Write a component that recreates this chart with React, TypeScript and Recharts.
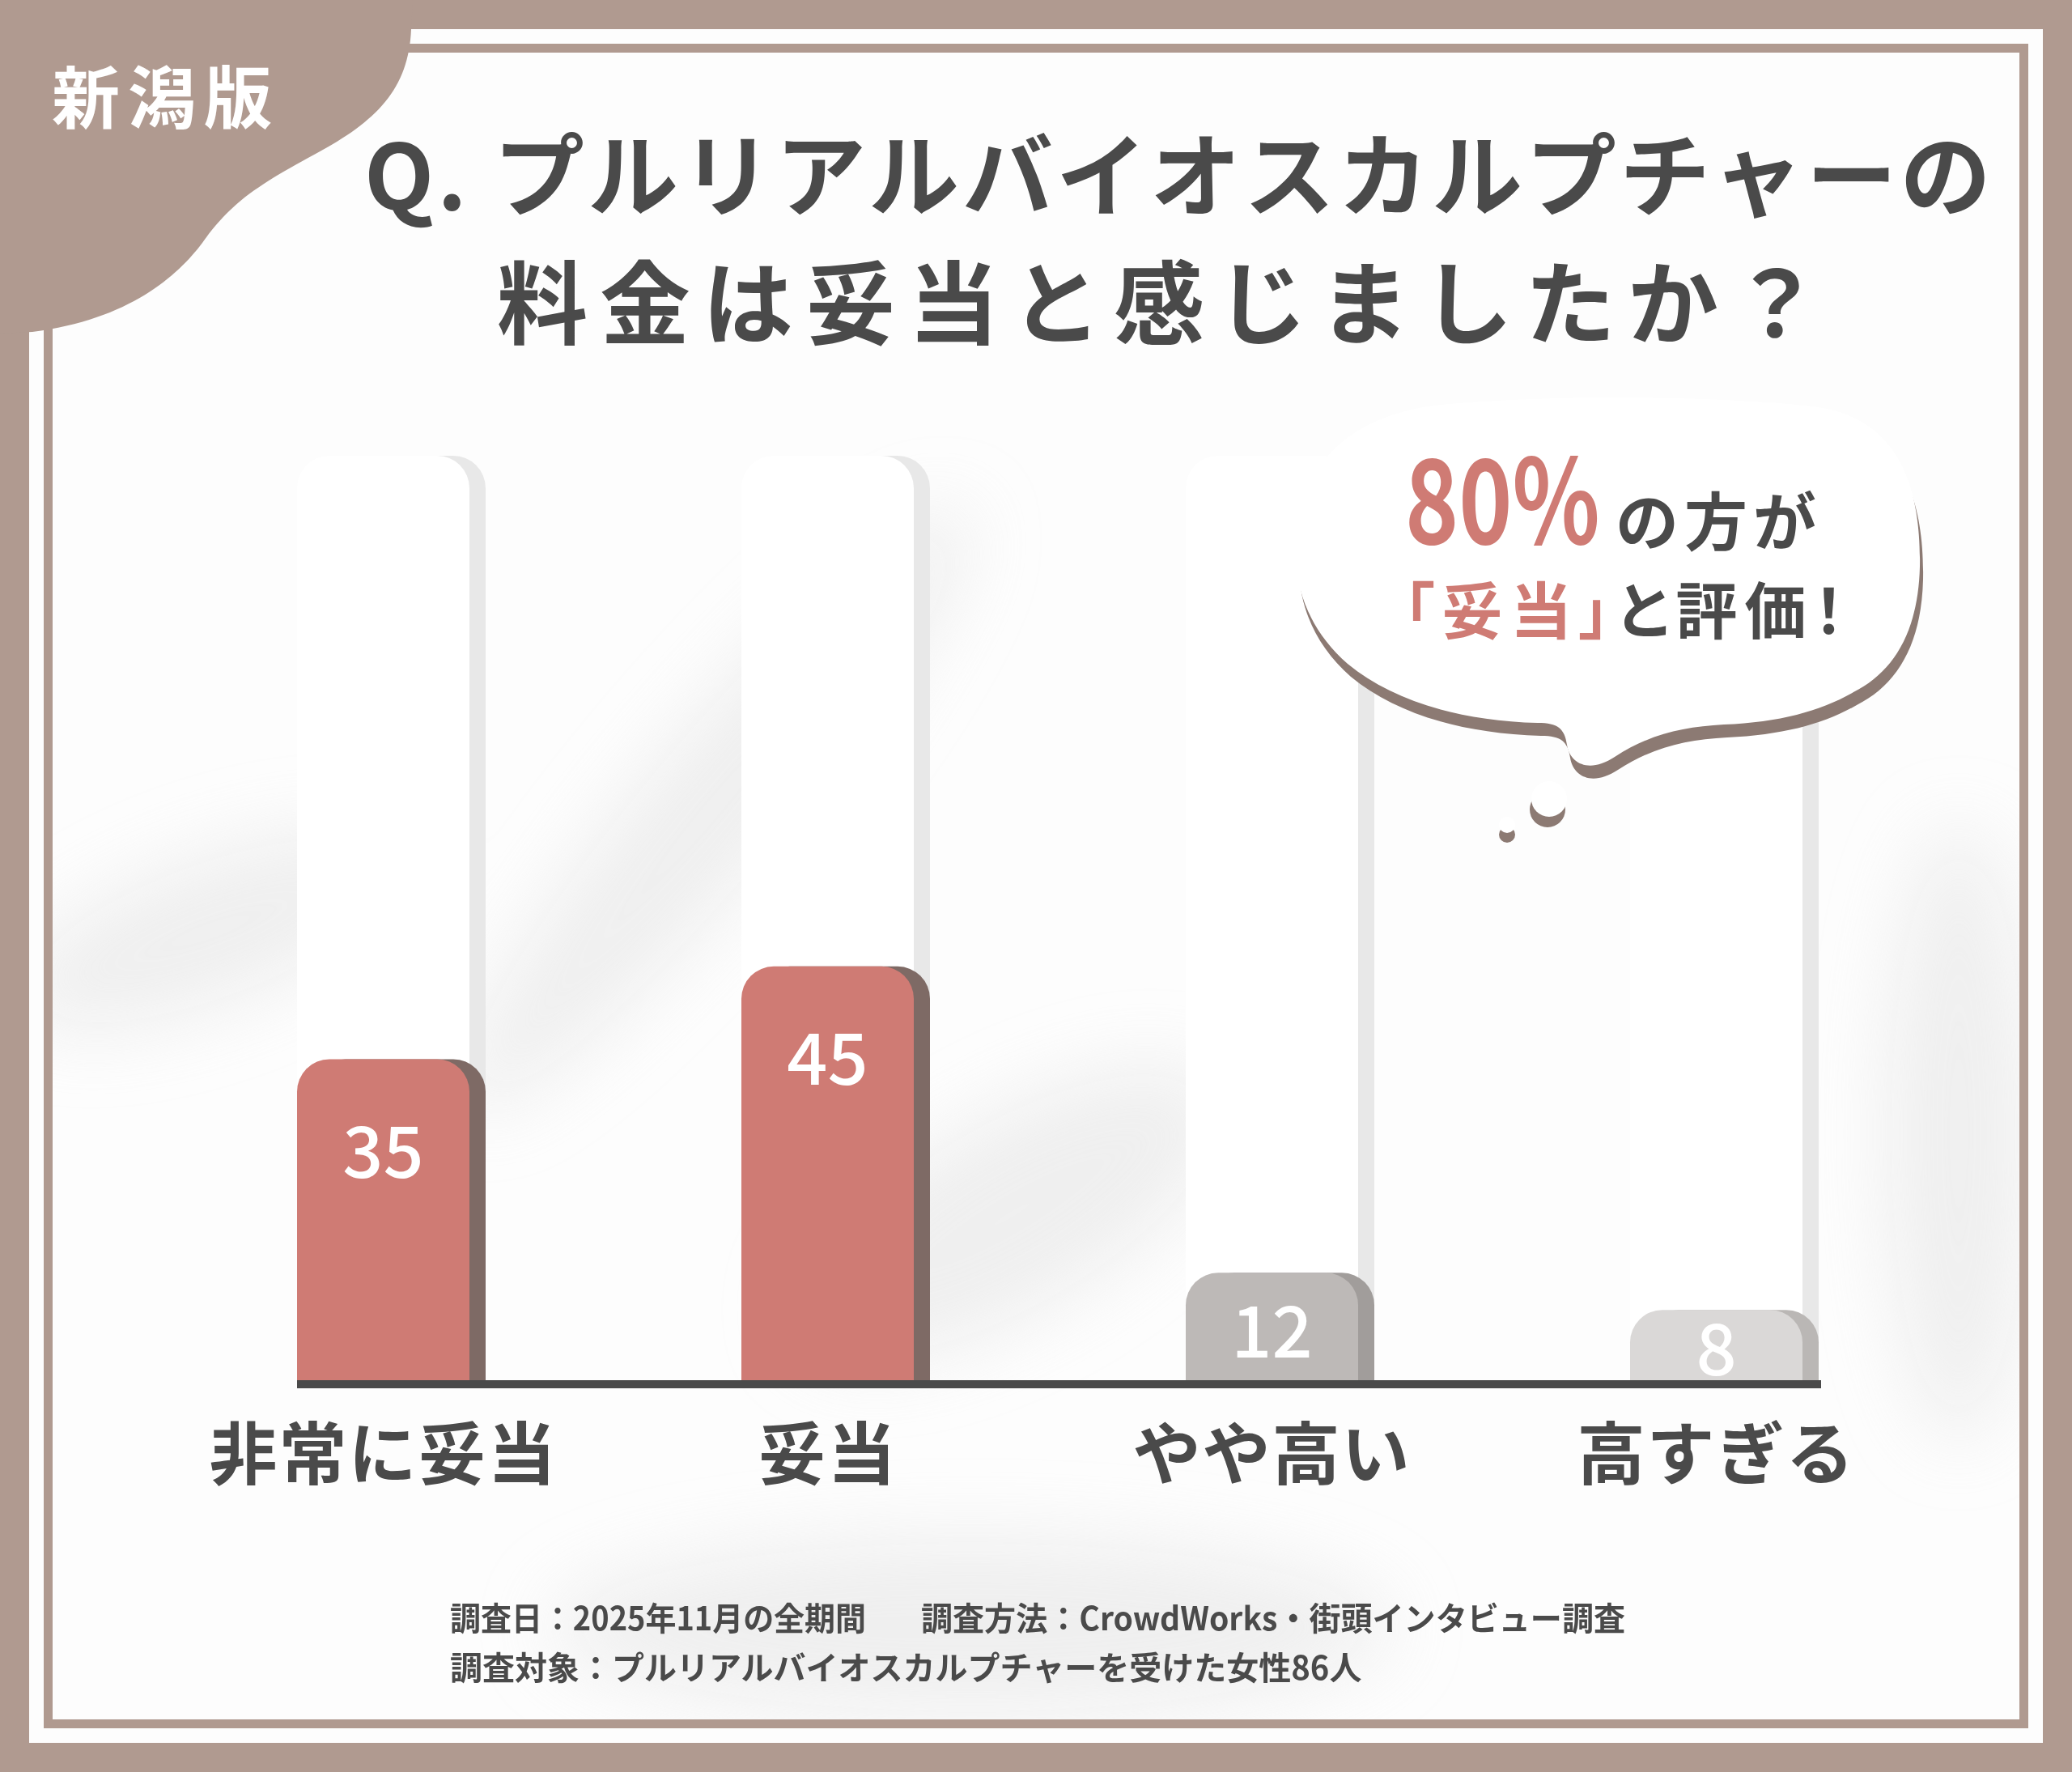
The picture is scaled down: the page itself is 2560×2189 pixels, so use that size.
import React from "react";
import { BarChart, Bar, XAxis, YAxis } from "recharts";

// 料金は妥当と感じましたか？ (n=86, 新潟版)
const categories = ["非常に妥当", "妥当", "やや高い", "高すぎる"];
const values = [35, 45, 12, 8];
const trackMax = 100;

const faceColors = ["#cf7b74", "#cf7b74", "#bdb9b7", "#dad8d7"];
const sideColors = ["#7e6a65", "#7e6a65", "#a19d9b", "#bab7b5"];

const data = categories.map((name, i) => ({ name, value: values[i] }));

const W = 2560;
const H = 2189;
const FONT = '"Noto Sans CJK JP", "Noto Sans", sans-serif';
const INK = "#4a4a4a";
const BROWN = "#b09a90";
const CORAL = "#cf7b74";
const PAPER = "#fdfdfd";
const SIDE = 20;
const RADIUS = 40;

const BUBBLE =
  "M1601,690 C1598,590 1650,515 1780,500 C1900,488 2120,488 2240,502 C2345,515 2374,600 2372,700 C2370,780 2340,830 2290,855 C2250,878 2200,892 2130,895 C2080,898 2040,906 1995,935 C1965,955 1940,945 1936,920 C1933,900 1925,893 1900,893 C1800,890 1720,865 1665,820 C1625,785 1603,740 1601,690 Z";

const topRounded = (x: number, y: number, w: number, h: number, r: number) => {
  const rr = Math.max(0, Math.min(r, h, w / 2));
  return `M${x},${y + h} L${x},${y + rr} A${rr},${rr} 0 0 1 ${x + rr},${y} L${x + w - rr},${y} A${rr},${rr} 0 0 1 ${x + w},${y + rr} L${x + w},${y + h} Z`;
};

const TrackShape = (props: any) => {
  const { x, y, width, height } = props;
  return (
    <g>
      <path d={topRounded(x + SIDE, y, width, height, RADIUS)} fill="#e8e8e8" />
      <path d={topRounded(x, y, width, height, RADIUS)} fill="#ffffff" />
    </g>
  );
};

const BarShape = (props: any) => {
  const { x, y, width, height, index } = props;
  return (
    <g>
      <path d={topRounded(x + SIDE, y, width, height, RADIUS)} fill={sideColors[index]} />
      <path d={topRounded(x, y, width, height, RADIUS)} fill={faceColors[index]} />
    </g>
  );
};

const ValueLabel = (props: any) => {
  const { x, y, width, height, value } = props;
  const cy = y + Math.min(114, height * 0.53);
  return (
    <text
      x={x + width / 2}
      y={cy}
      dy={32}
      textAnchor="middle"
      fill="#ffffff"
      fontSize={88}
      fontWeight={500}
      fontFamily={FONT}
    >
      {value}
    </text>
  );
};

const CategoryTick = (props: any) => {
  const { x, y, payload } = props;
  return (
    <text
      x={x}
      y={y}
      dy={117}
      textAnchor="middle"
      fill={INK}
      fontSize={84}
      fontWeight={700}
      fontFamily={FONT}
      letterSpacing={2}
    >
      {payload.value}
    </text>
  );
};

const Background = () => (
  <svg width={W} height={H} style={{ position: "absolute", left: 0, top: 0 }}>
    <defs>
      <filter id="soft" x="-50%" y="-50%" width="200%" height="200%">
        <feGaussianBlur stdDeviation="45" />
      </filter>
      <clipPath id="inner">
        <rect x={65} y={65} width={2430} height={2059} />
      </clipPath>
    </defs>
    <rect x={0} y={0} width={W} height={H} fill={BROWN} />
    <rect x={36} y={36} width={2488} height={2117} fill={PAPER} />
    <rect x={54} y={54} width={2452} height={2081} fill={BROWN} />
    <rect x={65} y={65} width={2430} height={2059} fill={PAPER} />
    <g clipPath="url(#inner)" filter="url(#soft)" fill="#e6e6e6" opacity={0.6}>
      <ellipse cx={260} cy={1150} rx={260} ry={90} transform="rotate(-20 260 1150)" />
      <ellipse cx={880} cy={1000} rx={480} ry={90} transform="rotate(-50 880 1000)" />
      <ellipse cx={1200} cy={2010} rx={520} ry={110} />
      <ellipse cx={2420} cy={1400} rx={90} ry={380} />
      <ellipse cx={1250} cy={1500} rx={300} ry={120} transform="rotate(-30 1250 1500)" />
    </g>
    <path
      d="M0,0 L510,0 L508,36 C505,110 465,150 390,190 C320,228 285,250 250,300 C220,340 160,395 40,410 L0,412 Z"
      fill={BROWN}
    />
  </svg>
);

const Overlay = () => (
  <svg
    width={W}
    height={H}
    style={{ position: "absolute", left: 0, top: 0, pointerEvents: "none" }}
    fontFamily={FONT}
  >
    <text x={64} y={152} fill="#ffffff" fontSize={84} fontWeight={700} letterSpacing={10}>
      新潟版
    </text>

    <text x={450} y={259} fill={INK} fontSize={112} fontWeight={700} letterSpacing={4}>
      Q. プルリアルバイオスカルプチャーの
    </text>
    <text x={614} y={417} fill={INK} fontSize={112} fontWeight={700} letterSpacing={15}>
      料金は妥当と感じましたか？
    </text>

    {/* speech bubble */}
    <path d={BUBBLE} transform="translate(4 16)" fill="#8c7a73" />
    <path d={BUBBLE} fill="#ffffff" />
    <circle cx={1912} cy={1000} r={22} fill="#8c7a73" />
    <circle cx={1914} cy={987} r={22} fill="#ffffff" />
    <circle cx={1862} cy={1031} r={10} fill="#8c7a73" />
    <circle cx={1862} cy={1019} r={10} fill="#ffffff" />

    <text
      transform="translate(1736 672) scale(0.78 1)"
      fill={CORAL}
      fontSize={144}
      fontWeight={700}
    >
      80%
    </text>
    <text x={1996} y={674} fill={INK} fontSize={78} fontWeight={700} letterSpacing={7}>
      の方が
    </text>
    <text
      x={1734}
      y={783}
      fontWeight={700}
      fontSize={76}
      letterSpacing={9}
      style={{ fontFeatureSettings: '"palt"' }}
    >
      <tspan fill={CORAL}>「妥当」</tspan>
      <tspan fill={INK}>と評価！</tspan>
    </text>

    {/* footer */}
    <g fill={INK} fontSize={40} fontWeight={700}>
      <text x={556} y={2014} textLength={514} lengthAdjust="spacingAndGlyphs">
        調査日：2025年11月の全期間
      </text>
      <text x={1138} y={2014} textLength={870} lengthAdjust="spacingAndGlyphs">
        調査方法：CrowdWorks・街頭インタビュー調査
      </text>
      <text x={556} y={2075}>
        調査対象：プルリアルバイオスカルプチャーを受けた女性86人
      </text>
    </g>
  </svg>
);

export default function App() {
  return (
    <div
      style={{
        position: "absolute",
        left: 0,
        top: 0,
        width: W,
        height: H,
        overflow: "hidden",
        background: BROWN,
      }}
    >
      <Background />
      <div style={{ position: "absolute", left: 0, top: 0 }}>
        <BarChart
          width={W}
          height={H}
          data={data}
          margin={{ top: 563, right: 165, bottom: 359, left: 199 }}
        >
          <XAxis
            dataKey="name"
            height={120}
            interval={0}
            tickLine={false}
            tickSize={0}
            tickMargin={0}
            axisLine={{ stroke: INK, strokeWidth: 10, strokeDasharray: "0 168 1883 4000" }}
            tick={<CategoryTick />}
          />
          <YAxis hide domain={[0, trackMax]} />
          <Bar
            dataKey="value"
            barSize={213}
            background={TrackShape}
            shape={BarShape}
            label={ValueLabel}
            isAnimationActive={false}
          />
        </BarChart>
      </div>
      <Overlay />
    </div>
  );
}
